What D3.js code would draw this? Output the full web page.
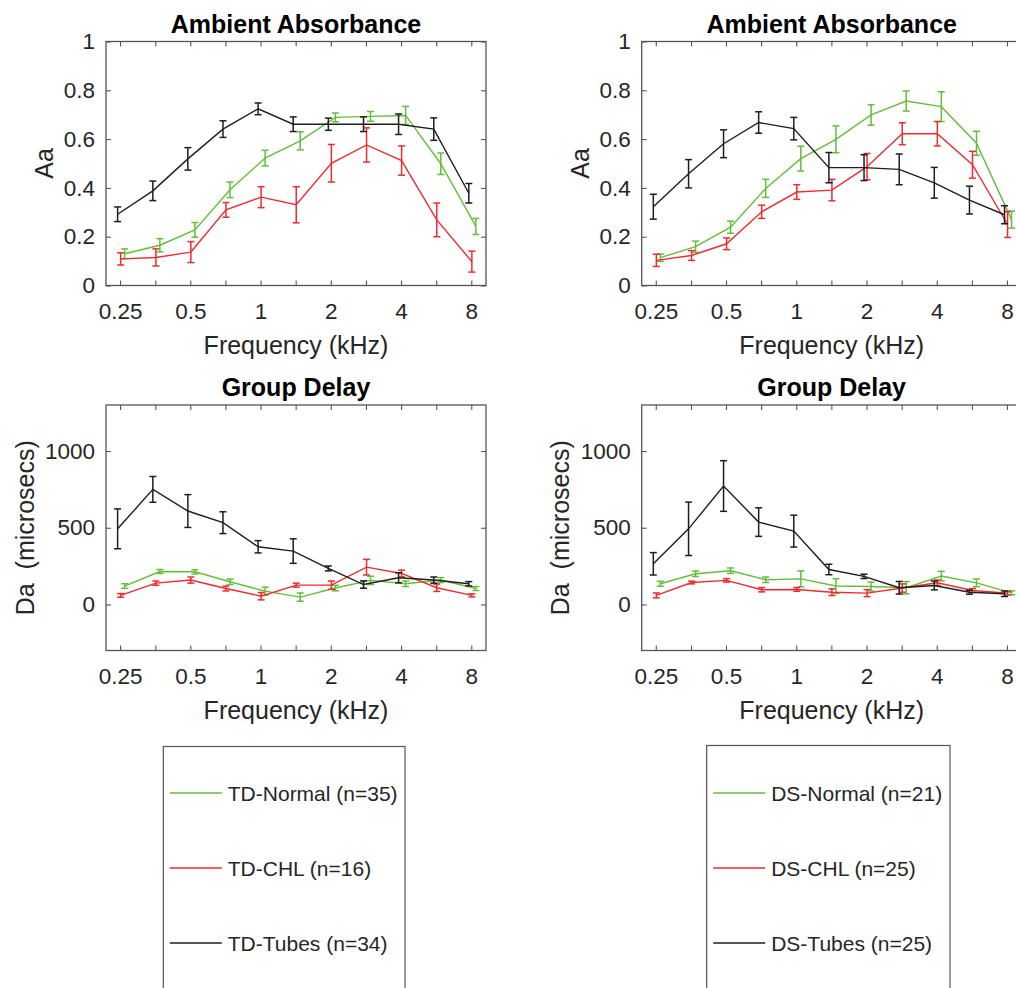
<!DOCTYPE html>
<html>
<head>
<meta charset="utf-8">
<script src="https://cdn.jsdelivr.net/npm/d3@7.9.0/dist/d3.min.js"></script>
<style>
  body { margin: 0; background: #fff; }
  svg { display: block; font-family: "Liberation Sans", Arial, Helvetica, sans-serif; }
</style>
</head>
<body>
<svg id="chart" width="1016" height="988"></svg>
<script>
// half-octave test frequencies (kHz)
const freqs = [0.25, 0.354, 0.5, 0.707, 1, 1.414, 2, 2.83, 4, 5.66, 8];
const freqLabels = [0.25, 0.5, 1, 2, 4, 8];
const aaTicks = [0, 0.2, 0.4, 0.6, 0.8, 1];
const daTicks = [0, 500, 1000];

// TD group, ambient absorbance
const tdNormalAa = [0.13, 0.165, 0.228, 0.392, 0.522, 0.593, 0.689, 0.693, 0.697, 0.499, 0.242];
const tdNormalAaErr = [0.02, 0.027, 0.03, 0.032, 0.032, 0.037, 0.018, 0.02, 0.037, 0.044, 0.033];
const tdChlAa = [0.109, 0.115, 0.137, 0.31, 0.362, 0.331, 0.501, 0.576, 0.512, 0.269, 0.098];
const tdChlAaErr = [0.025, 0.035, 0.043, 0.03, 0.043, 0.074, 0.077, 0.07, 0.06, 0.069, 0.043];
const tdTubesAa = [0.292, 0.388, 0.519, 0.641, 0.724, 0.661, 0.661, 0.661, 0.661, 0.641, 0.378];
const tdTubesAaErr = [0.03, 0.04, 0.046, 0.034, 0.024, 0.03, 0.025, 0.03, 0.042, 0.046, 0.04];

// DS group, ambient absorbance
const dsNormalAa = [0.114, 0.159, 0.239, 0.398, 0.52, 0.599, 0.699, 0.756, 0.733, 0.583, 0.27];
const dsNormalAaErr = [0.015, 0.023, 0.025, 0.037, 0.051, 0.055, 0.042, 0.041, 0.061, 0.049, 0.035];
const dsChlAa = [0.103, 0.123, 0.171, 0.302, 0.383, 0.391, 0.487, 0.622, 0.622, 0.495, 0.25];
const dsChlAaErr = [0.025, 0.02, 0.024, 0.027, 0.03, 0.044, 0.054, 0.045, 0.05, 0.055, 0.053];
const dsTubesAa = [0.323, 0.458, 0.581, 0.668, 0.643, 0.483, 0.483, 0.476, 0.421, 0.35, 0.29];
const dsTubesAaErr = [0.051, 0.058, 0.057, 0.044, 0.046, 0.062, 0.053, 0.063, 0.063, 0.057, 0.037];

// TD group, group delay (microsecs)
const tdNormalDa = [120, 215, 213, 148, 87, 48, 107, 157, 135, 159, 104];
const tdNormalDaErr = [15, 13, 14, 18, 26, 27, 18, 27, 18, 16, 13];
const tdChlDa = [59, 139, 159, 104, 54, 126, 126, 243, 202, 109, 59];
const tdChlDaErr = [12, 14, 20, 16, 24, 13, 27, 51, 22, 24, 10];
const tdTubesDa = [493, 750, 609, 533, 376, 348, 235, 130, 174, 159, 135];
const tdTubesDaErr = [130, 84, 107, 71, 40, 80, 16, 24, 33, 20, 14];

// DS group, group delay (microsecs)
const dsNormalDa = [135, 200, 220, 161, 167, 120, 117, 109, 185, 141, 76];
const dsNormalDaErr = [16, 18, 18, 18, 52, 48, 29, 40, 31, 25, 13];
const dsChlDa = [59, 143, 157, 96, 98, 80, 74, 107, 141, 91, 74];
const dsChlDaErr = [16, 9, 11, 14, 12, 22, 23, 27, 18, 13, 12];
const dsTubesDa = [265, 493, 772, 537, 478, 228, 183, 109, 124, 80, 70];
const dsTubesDaErr = [73, 174, 165, 93, 104, 34, 14, 41, 29, 13, 18];

const tdNames = ['TD-Normal (n=35)', 'TD-CHL (n=16)', 'TD-Tubes (n=34)'];
const dsNames = ['DS-Normal (n=21)', 'DS-CHL (n=25)', 'DS-Tubes (n=25)'];

const colors = ['#63be3b', '#ee2b30', '#1e1e1e'];
// small horizontal shift per group (in octaves) so the error bars don't overlap
const dodge = [0.065, 0.008, -0.035];

const axisColor = '#262626';
const boxColor = '#555';
const svg = d3.select('#chart');

const boxW = 380;
const rows = { top: [41.5, 285.5], bottom: [405, 650.5] };

function makeSeries(vals, errs) {
  return vals.map((v, i) => ({ f: freqs[i], v, e: errs[i] }));
}

const panels = [
  { left: 106, row: rows.top, title: 'Ambient Absorbance', ylabel: 'Aa', labelOff: 53,
    yDomain: [0, 1], yTicks: aaTicks,
    series: [makeSeries(tdNormalAa, tdNormalAaErr), makeSeries(tdChlAa, tdChlAaErr), makeSeries(tdTubesAa, tdTubesAaErr)] },
  { left: 641.7, row: rows.top, title: 'Ambient Absorbance', ylabel: 'Aa', labelOff: 53,
    yDomain: [0, 1], yTicks: aaTicks,
    series: [makeSeries(dsNormalAa, dsNormalAaErr), makeSeries(dsChlAa, dsChlAaErr), makeSeries(dsTubesAa, dsTubesAaErr)] },
  { left: 106, row: rows.bottom, title: 'Group Delay', ylabel: 'Da  (microsecs)', labelOff: 72.5,
    yDomain: [-300, 1300], yTicks: daTicks,
    series: [makeSeries(tdNormalDa, tdNormalDaErr), makeSeries(tdChlDa, tdChlDaErr), makeSeries(tdTubesDa, tdTubesDaErr)] },
  { left: 641.7, row: rows.bottom, title: 'Group Delay', ylabel: 'Da  (microsecs)', labelOff: 72.5,
    yDomain: [-300, 1300], yTicks: daTicks,
    series: [makeSeries(dsNormalDa, dsNormalDaErr), makeSeries(dsChlDa, dsChlDaErr), makeSeries(dsTubesDa, dsTubesDaErr)] }
];

function styleAxis(g) {
  g.select('.domain').remove();
  g.selectAll('line').attr('stroke', boxColor).attr('stroke-width', 1.1);
  g.selectAll('text').attr('fill', axisColor).attr('font-size', 22.5)
    .attr('font-family', '"Liberation Sans", Arial, sans-serif');
}

panels.forEach(p => {
  const x0 = p.left, x1 = p.left + boxW;
  const [y0, y1] = p.row;
  const x = d3.scaleLog().base(2).domain([0.2176, 9.25]).range([x0, x1]);
  const y = d3.scaleLinear().domain(p.yDomain).range([y1, y0]);
  const g = svg.append('g');

  // axes, ticks pointing inward on every side
  g.append('g').attr('transform', `translate(0,${y1})`)
    .call(d3.axisBottom(x).tickValues(freqs).tickSizeInner(-5).tickSizeOuter(0).tickPadding(18)
      .tickFormat(d => freqLabels.includes(d) ? String(d) : ''))
    .call(styleAxis);
  g.append('g').attr('transform', `translate(0,${y0})`)
    .call(d3.axisTop(x).tickValues(freqs).tickSizeInner(-5).tickSizeOuter(0).tickFormat(''))
    .call(styleAxis);
  g.append('g').attr('transform', `translate(${x0},0)`)
    .call(d3.axisLeft(y).tickValues(p.yTicks).tickSizeInner(-5).tickSizeOuter(0).tickPadding(11)
      .tickFormat(d => String(d)))
    .call(styleAxis);
  g.append('g').attr('transform', `translate(${x1},0)`)
    .call(d3.axisRight(y).tickValues(p.yTicks).tickSizeInner(-5).tickSizeOuter(0).tickFormat(''))
    .call(styleAxis);

  g.append('rect')
    .attr('x', x0).attr('y', y0).attr('width', boxW).attr('height', y1 - y0)
    .attr('fill', 'none').attr('stroke', boxColor).attr('stroke-width', 1.3);

  // series
  p.series.forEach((s, si) => {
    const sx = d => x(d.f * Math.pow(2, dodge[si]));
    const line = d3.line().x(sx).y(d => y(d.v));
    g.append('path').datum(s)
      .attr('d', line).attr('fill', 'none')
      .attr('stroke', colors[si]).attr('stroke-width', 1.4);

    const eb = g.append('g').attr('stroke', colors[si]).attr('stroke-width', 1.5);
    s.forEach(d => {
      const cx = sx(d), ya = y(d.v - d.e), yb = y(d.v + d.e);
      eb.append('line').attr('x1', cx).attr('x2', cx).attr('y1', ya).attr('y2', yb);
      eb.append('line').attr('x1', cx - 3.5).attr('x2', cx + 3.5).attr('y1', ya).attr('y2', ya);
      eb.append('line').attr('x1', cx - 3.5).attr('x2', cx + 3.5).attr('y1', yb).attr('y2', yb);
    });
  });

  // title and axis labels
  const cx = (x0 + x1) / 2;
  g.append('text').attr('x', cx).attr('y', y0 - 9)
    .attr('text-anchor', 'middle').attr('font-size', 25).attr('font-weight', 'bold')
    .attr('fill', '#000').text(p.title);
  g.append('text').attr('x', cx).attr('y', y1 + 68)
    .attr('text-anchor', 'middle').attr('font-size', 25)
    .attr('fill', axisColor).text('Frequency (kHz)');
  g.append('text')
    .attr('transform', `translate(${x0 - p.labelOff},${(y0 + y1) / 2}) rotate(-90)`)
    .attr('text-anchor', 'middle').attr('font-size', 25)
    .style('white-space', 'pre')
    .attr('fill', axisColor).text(p.ylabel);
});

// legends
const legends = [
  { left: 163.3, top: 746.5, width: 241.7, names: tdNames },
  { left: 706.7, top: 745.5, width: 243.3, names: dsNames }
];
const rowY = [793, 868, 943];

legends.forEach(l => {
  const g = svg.append('g');
  g.append('rect').attr('x', l.left).attr('y', l.top).attr('width', l.width).attr('height', 300)
    .attr('fill', '#fff').attr('stroke', boxColor).attr('stroke-width', 1.2);
  l.names.forEach((name, i) => {
    g.append('line').attr('x1', l.left + 6.5).attr('x2', l.left + 58.5)
      .attr('y1', rowY[i]).attr('y2', rowY[i])
      .attr('stroke', colors[i]).attr('stroke-width', 1.4);
    g.append('text').attr('x', l.left + 64.5).attr('y', rowY[i] + 8)
      .attr('font-size', 21).attr('fill', axisColor).text(name);
  });
});
</script>
</body>
</html>
